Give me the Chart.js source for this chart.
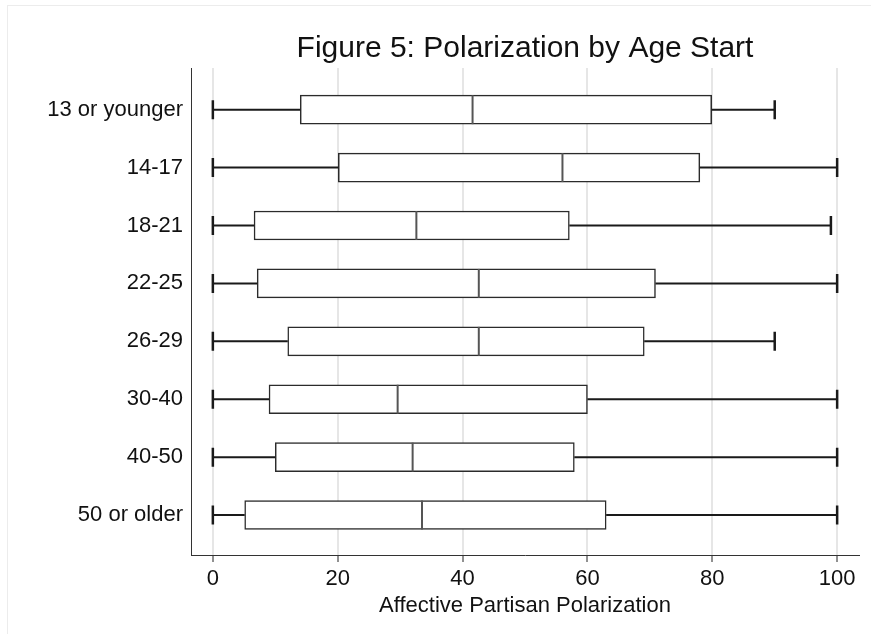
<!DOCTYPE html>
<html lang="en">
<head>
    <meta charset="UTF-8">
    <title>Figure 5: Polarization by Age Start</title>
    <script src="https://cdn.jsdelivr.net/npm/chart.js"></script>
    <style>
        body { margin: 0; background: #fff; }
        .wrap { position: relative; width: 871px; height: 634px; }
        .frame { position: absolute; left: 7px; top: 5px; right: 0; bottom: 0;
                 border-left: 1px solid #ececec; border-top: 1px solid #ececec; }
        canvas { position: absolute; left: 0; top: 0; }
    </style>
</head>
<body>
    <div class="wrap">
        <div class="frame"></div>
        <canvas id="boxChart" width="871" height="634"></canvas>
    </div>

    <script>
        // data
        const ageGroups = ['13 or younger', '14-17', '18-21', '22-25', '26-29', '30-40', '40-50', '50 or older'];
        const lowWhisker = [0, 0, 0, 0, 0, 0, 0, 0];
        const q1 = [14.0, 20.1, 6.6, 7.1, 12.0, 9.0, 10.0, 5.1];
        const medians = [41.6, 56.0, 32.6, 42.6, 42.6, 29.6, 32.0, 33.5];
        const q3 = [79.9, 78.0, 57.1, 70.9, 69.1, 60.0, 57.9, 63.0];
        const highWhisker = [90, 100, 99, 100, 90, 100, 100, 100];
        const xTicks = [0, 20, 40, 60, 80, 100];

        const fontFamily = "'Liberation Sans', Arial, sans-serif";

        // whiskers + median lines, drawn with the chart's scales
        const boxExtras = {
            id: 'boxExtras',
            afterDatasetsDraw(chart) {
                const ctx = chart.ctx;
                const x = chart.scales.x;
                const y = chart.scales.y;
                const half = 14.5;
                const cap = 9.5;
                ctx.save();
                ageGroups.forEach((g, i) => {
                    const yc = y.getPixelForValue(i);
                    const xmin = x.getPixelForValue(lowWhisker[i]);
                    const xq1 = x.getPixelForValue(q1[i]);
                    const xq3 = x.getPixelForValue(q3[i]);
                    const xmax = x.getPixelForValue(highWhisker[i]);
                    const xmed = x.getPixelForValue(medians[i]);

                    ctx.strokeStyle = '#1a1a1a';
                    ctx.lineWidth = 2;
                    ctx.beginPath();
                    ctx.moveTo(xmin, yc); ctx.lineTo(xq1, yc);
                    ctx.moveTo(xq3, yc); ctx.lineTo(xmax, yc);
                    ctx.stroke();

                    ctx.lineWidth = 2.5;
                    ctx.beginPath();
                    ctx.moveTo(xmin, yc - cap); ctx.lineTo(xmin, yc + cap);
                    ctx.moveTo(xmax, yc - cap); ctx.lineTo(xmax, yc + cap);
                    ctx.stroke();

                    ctx.strokeStyle = '#555';
                    ctx.lineWidth = 2;
                    ctx.beginPath();
                    ctx.moveTo(xmed, yc - half); ctx.lineTo(xmed, yc + half);
                    ctx.stroke();
                });
                ctx.restore();
            }
        };

        new Chart(document.getElementById('boxChart'), {
            type: 'bar',
            data: {
                datasets: [{
                    data: ageGroups.map((g, i) => ({ x: [q1[i], q3[i]], y: i })),
                    backgroundColor: '#ffffff',
                    borderColor: '#2b2b2b',
                    borderWidth: 1.5,
                    borderSkipped: false,
                    barThickness: 29
                }]
            },
            options: {
                indexAxis: 'y',
                responsive: false,
                animation: false,
                layout: { padding: { left: 0, right: 12, top: 0, bottom: 0 } },
                plugins: {
                    legend: { display: false },
                    tooltip: { enabled: false }
                },
                scales: {
                    x: {
                        type: 'linear',
                        position: 'bottom',
                        min: -3.5,
                        max: 103.5,
                        afterBuildTicks: s => { s.ticks = xTicks.map(v => ({ value: v })); },
                        afterFit: s => { s.height = 79; },
                        grid: {
                            color: '#e6e6e6',
                            lineWidth: 2,
                            drawTicks: true,
                            tickLength: 7,
                            tickColor: '#222',
                            tickWidth: 1
                        },
                        border: { display: true, color: '#333', width: 1 },
                        ticks: {
                            color: '#111',
                            padding: 4,
                            maxRotation: 0,
                            font: { family: fontFamily, size: 22 }
                        },
                        title: {
                            display: true,
                            text: 'Affective Partisan Polarization',
                            color: '#111',
                            padding: { top: 0, bottom: 15 },
                            font: { family: fontFamily, size: 22 }
                        }
                    },
                    x2: {
                        type: 'linear',
                        position: 'top',
                        afterFit: s => { s.height = 68; },
                        grid: { display: false, drawTicks: false },
                        border: { display: false },
                        ticks: { display: false },
                        title: {
                            display: true,
                            text: 'Figure 5: Polarization by Age Start',
                            color: '#111',
                            padding: { top: 31, bottom: 0 },
                            font: { family: fontFamily, size: 30 }
                        }
                    },
                    y: {
                        type: 'linear',
                        reverse: true,
                        offset: false,
                        min: -0.72,
                        max: 7.69,
                        afterBuildTicks: s => { s.ticks = ageGroups.map((g, i) => ({ value: i })); },
                        afterFit: s => { s.width = 191; },
                        grid: { display: false, drawTicks: false, offset: false },
                        border: { display: true, color: '#333', width: 1 },
                        ticks: {
                            color: '#111',
                            padding: 8,
                            font: { family: fontFamily, size: 22 },
                            callback: v => ageGroups[v]
                        }
                    }
                }
            },
            plugins: [boxExtras]
        });
    </script>
</body>
</html>
